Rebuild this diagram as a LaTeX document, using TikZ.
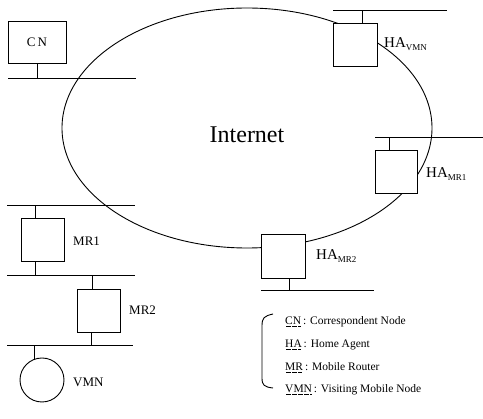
\documentclass[tikz,border=0pt]{standalone}
\usepackage{fontspec}
\setmainfont{Liberation Serif}
\newcommand{\dotul}[1]{\leavevmode\setbox0=\hbox{#1}\rlap{\raisebox{-2pt}{\hbox to \wd0{\leaders\hbox to 1.2pt{\hss\rule{0.5pt}{0.5pt}\hss}\hfill}}}\box0}
\begin{document}
\begin{tikzpicture}[x=1pt,y=-1pt,
  lw/.style={line width=0.9pt},
  box/.style={draw,lw,fill=white,minimum width=43pt,minimum height=43pt,inner sep=0pt},
  lbl/.style={anchor=west,inner sep=0pt,font=\fontsize{13}{13}\selectfont},
  leg/.style={anchor=west,inner sep=0pt,font=\fontsize{11.5}{11.5}\selectfont}]
\useasboundingbox (0,0) rectangle (483,419);
\newcommand{\hasub}[1]{{\fontsize{15}{15}\selectfont HA}\raisebox{-2.5pt}{\fontsize{9}{9}\selectfont #1}}
% Internet cloud
\draw[lw] (247,128) ellipse [x radius=185, y radius=120];
\node[inner sep=0pt,font=\fontsize{24}{24}\selectfont] (inet) at (247,135) {Internet};
% LAN lines
\coordinate (l1a) at (8,78);   \coordinate (l1b) at (136,78);
\coordinate (l2a) at (333,10); \coordinate (l2b) at (447,10);
\coordinate (l3a) at (375,137); \coordinate (l3b) at (483,137);
\coordinate (l4a) at (261,290); \coordinate (l4b) at (374,290);
\coordinate (l5a) at (7,205);  \coordinate (l5b) at (135,205);
\coordinate (l6a) at (7,275);  \coordinate (l6b) at (135,275);
\coordinate (l7a) at (7,345);  \coordinate (l7b) at (133,345);
\foreach \a/\b in {l1a/l1b,l2a/l2b,l3a/l3b,l4a/l4b,l5a/l5b,l6a/l6b,l7a/l7b}
  \draw[lw] (\a) -- (\b);
% boxes
\node[box,minimum width=58pt,minimum height=42pt,font=\fontsize{13}{13}\selectfont] (cn) at (37,42) {C\,N};
\node[box,minimum width=44pt] (havmn) at (355,44.5) {};
\node[box,minimum width=42pt] (hamr1) at (396,171.5) {};
\node[box,minimum width=44pt,minimum height=44pt] (hamr2) at (283,256) {};
\node[box] (mr1) at (42.5,239.5) {};
\node[box] (mr2) at (98.5,310.5) {};
\node[draw,lw,circle,minimum size=44pt,inner sep=0pt] (vmn) at (42,380) {};
% stubs
\draw[lw] (cn.south) -- (cn.south |- l1a);
\draw[lw] (havmn.north -| 362,0) -- (362,10);
\draw[lw] (hamr1.north -| 389,0) -- (389,137);
\draw[lw] (hamr2.south -| 289,0) -- (289,290);
\draw[lw] (mr1.north -| 35,0) -- (35,205);
\draw[lw] (mr1.south -| 35,0) -- (35,275);
\draw[lw] (mr2.north -| 92,0) -- (92,275);
\draw[lw] (mr2.south -| 91,0) -- (91,345);
\draw[lw] (vmn.111) -- (vmn.111 |- l7a);
% labels
\node[lbl] (lhavmn) at (384,44) {\hasub{VMN}};
\node[lbl] (lhamr1) at (426,174) {\hasub{MR1}};
\node[lbl] (lhamr2) at (316,256) {\hasub{MR2}};
\node[lbl] (lmr1) at (73,241) {MR1};
\node[lbl] (lmr2) at (129,310) {MR2};
\node[lbl] (lvmn) at (73,382) {VMN};
% legend
\draw[lw] (273,314) .. controls (264,316) and (262,318) .. (262,326) -- (262,378) .. controls (262,385) and (264,387) .. (273,388);
\node[leg] (g1) at (285,322) {\dotul{CN}\,: Correspondent Node};
\node[leg] (g2) at (285,345) {\dotul{HA}\,: Home Agent};
\node[leg] (g3) at (285,368) {\dotul{MR}\,: Mobile Router};
\node[leg] (g4) at (285,390) {\dotul{VMN}\,: Visiting Mobile Node};
\end{tikzpicture}
\end{document}
